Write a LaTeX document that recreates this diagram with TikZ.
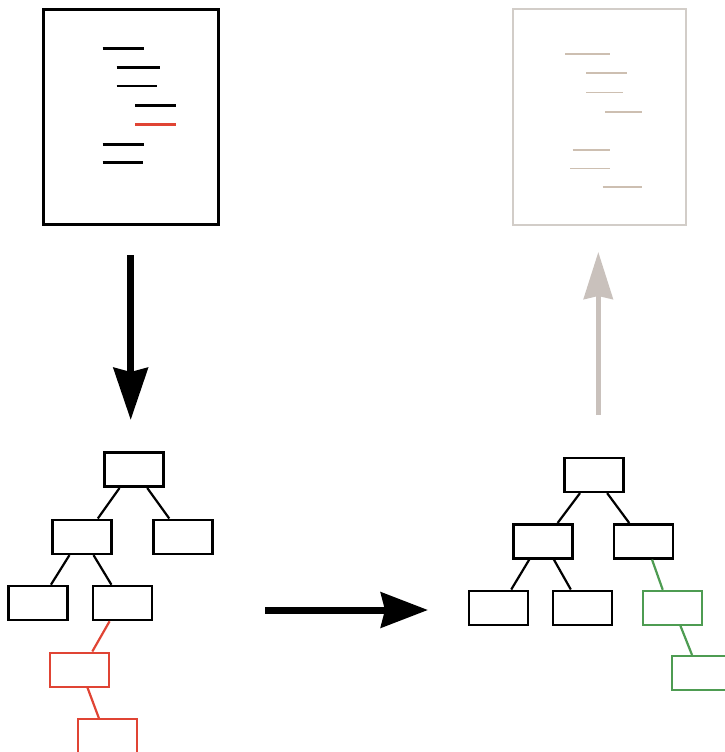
\documentclass[tikz,border=0pt]{standalone}
\usetikzlibrary{calc,arrows.meta}
\definecolor{redc}{HTML}{E04434}
\definecolor{greenc}{HTML}{4E9C52}
\definecolor{grayarrow}{HTML}{C9C1BC}
\definecolor{graydoc}{HTML}{D2CDC8}
\definecolor{grayline}{HTML}{CDBFB1}
\begin{document}
\begin{tikzpicture}[x=1pt,y=-1pt,
  box/.style={draw,line width=2.6pt,minimum width=59pt,minimum height=34pt,inner sep=0pt},
  redbox/.style={box,draw=redc,line width=2pt},
  greenbox/.style={box,draw=greenc,line width=2pt},
  edge/.style={line width=2.2pt},
  docbox/.style={draw,inner sep=0pt},
  txt/.style={line width=2.6pt},
  gtxt/.style={line width=1.6pt,grayline},
  bigarrow/.style={line width=7pt,-{Stealth[length=52pt,width=34pt,inset=4pt]}},
  grayarr/.style={line width=5pt,grayarrow,-{Stealth[length=47pt,width=29pt,inset=3pt]}}]
\useasboundingbox (0,0) rectangle (725,752);
% source document
\node[docbox,line width=3pt,minimum width=175pt,minimum height=214pt] (docA) at (130.5,117) {};
\draw[txt] (102.7,48.3) -- (144,48.3);
\draw[txt] (116.7,67.3) -- (160,67.3);
\draw[txt] (116.7,86) -- (157,86);
\draw[txt] (135,105.7) -- (176,105.7);
\draw[txt,redc] (135,124.3) -- (176,124.3);
\draw[txt] (102.7,144.3) -- (144,144.3);
\draw[txt] (102.7,162.7) -- (143,162.7);
% result document
\node[docbox,draw=graydoc,line width=2pt,minimum width=173pt,minimum height=216pt] (docB) at (599.5,117) {};
\draw[gtxt] (565,54.3) -- (610,54.3);
\draw[gtxt] (586,73.3) -- (627,73.3);
\draw[gtxt] (586,92.3) -- (623,92.3);
\draw[gtxt] (605,111.7) -- (642,111.7);
\draw[gtxt] (572.7,150) -- (610,150);
\draw[gtxt] (570,168.3) -- (610,168.3);
\draw[gtxt] (602.7,186.7) -- (641.7,186.7);
% left tree
\node[box] (a) at (133.7,469.7) {};
\node[box] (aL) at (81.8,536.8) {};
\node[box] (aR) at (182.8,536.8) {};
\node[box] (aLL) at (38,603) {};
\node[box] (aLR) at (122.5,603) {};
\node[redbox] (r1) at (79.5,669.5) {};
\node[redbox] (r2) at (107.5,736.3) {};
\draw[edge] ($(a.south west)!.27!(a.south east)$) -- ($(aL.north west)!.76!(aL.north east)$);
\draw[edge] ($(a.south west)!.72!(a.south east)$) -- ($(aR.north west)!.28!(aR.north east)$);
\draw[edge] ($(aL.south west)!.30!(aL.south east)$) -- ($(aLL.north west)!.71!(aLL.north east)$);
\draw[edge] ($(aL.south west)!.69!(aL.south east)$) -- ($(aLR.north west)!.32!(aLR.north east)$);
\draw[edge,redc] ($(aLR.south west)!.29!(aLR.south east)$) -- ($(r1.north west)!.71!(r1.north east)$);
\draw[edge,redc] ($(r1.south west)!.63!(r1.south east)$) -- ($(r2.north west)!.36!(r2.north east)$);
% right tree
\node[box] (b) at (594.2,474.8) {};
\node[box] (bL) at (542.8,541.3) {};
\node[box] (bR) at (643.4,541.3) {};
\node[box] (bLL) at (498.3,607.8) {};
\node[box] (bLR) at (582.5,607.8) {};
\node[greenbox] (g1) at (672.5,607.8) {};
\node[greenbox] (g2) at (701.2,673) {};
\draw[edge] ($(b.south west)!.27!(b.south east)$) -- ($(bL.north west)!.74!(bL.north east)$);
\draw[edge] ($(b.south west)!.71!(b.south east)$) -- ($(bR.north west)!.27!(bR.north east)$);
\draw[edge] ($(bL.south west)!.28!(bL.south east)$) -- ($(bLL.north west)!.71!(bLL.north east)$);
\draw[edge] ($(bL.south west)!.68!(bL.south east)$) -- ($(bLR.north west)!.31!(bLR.north east)$);
\draw[edge,greenc] ($(bR.south west)!.64!(bR.south east)$) -- ($(g1.north west)!.34!(g1.north east)$);
\draw[edge,greenc] ($(g1.south west)!.63!(g1.south east)$) -- ($(g2.north west)!.35!(g2.north east)$);
% arrows
\coordinate (downS) at (130.7,255);
\coordinate (downE) at (130.7,420);
\coordinate (rightS) at (265,610);
\coordinate (rightE) at (428,610);
\coordinate (upS) at (598.3,415);
\coordinate (upE) at (598.3,252);
\draw[bigarrow] (downS) -- (downE);
\draw[bigarrow,-{Stealth[length=47pt,width=35pt,inset=4pt]}] (rightS) -- (rightE);
\draw[grayarr] (upS) -- (upE);
\end{tikzpicture}
\end{document}
